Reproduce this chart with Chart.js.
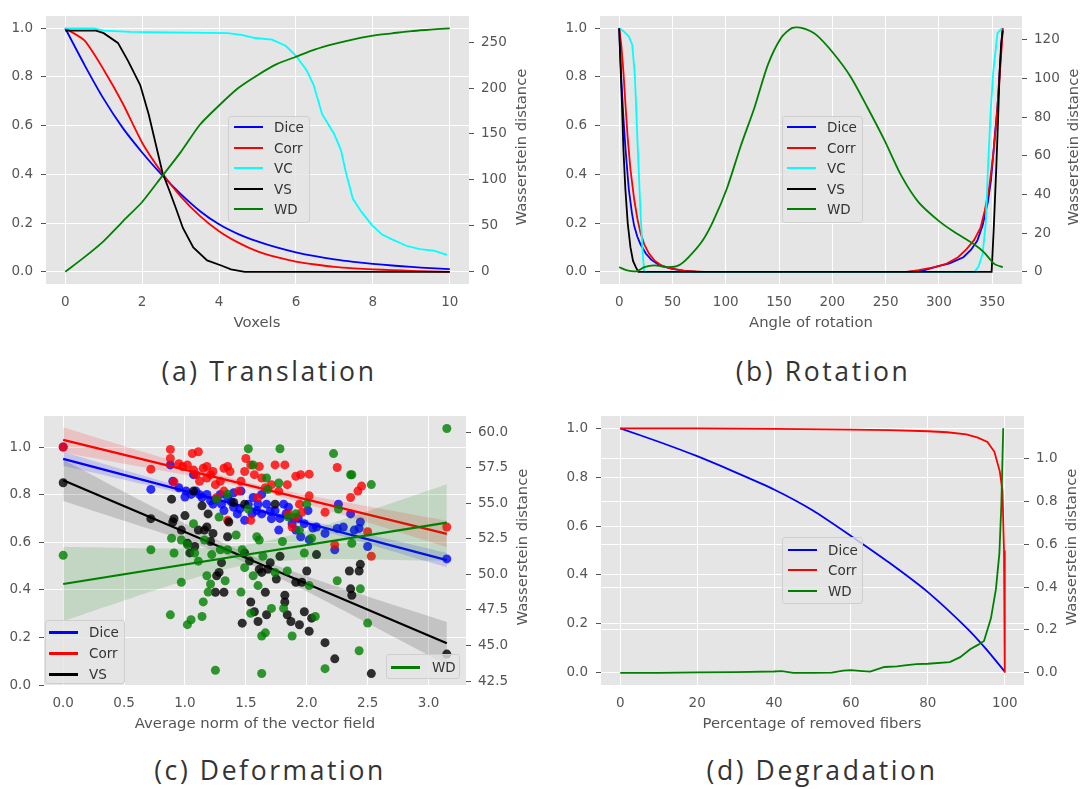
<!DOCTYPE html>
<html>
<head>
<meta charset="utf-8">
<script src="https://cdn.jsdelivr.net/npm/chart.js@4.4.1/dist/chart.umd.min.js"></script>
<style>
  body { margin: 0; background: #fff; width: 1080px; height: 789px; position: relative; overflow: hidden; font-family: 'DejaVu Sans', sans-serif; }
  canvas { position: absolute; }
  .t { position: absolute; transform: translate(-50%, -50%); white-space: nowrap; color: #555; font-size: 14.8px; }
  .r { transform: translate(-50%, -50%) rotate(-90deg); }
  .cap { position: absolute; transform: translateX(-50%); white-space: nowrap; font-family: 'Open Sans', sans-serif; font-size: 26.5px; line-height: 26px; letter-spacing: 2.6px; color: #333; }
  .lg { position: absolute; box-sizing: border-box; background: rgba(229,229,229,0.8); border: 1px solid #cfcfcf; border-radius: 3px; }
  .lg span { position: absolute; }
  .lg .tx { font-size: 13.5px; color: #333; transform: translateY(-50%); white-space: nowrap; }
</style>
</head>
<body>
<canvas id="ca" width="540" height="340" style="left:0;top:0"></canvas>
<canvas id="cb" width="540" height="340" style="left:540px;top:0"></canvas>
<canvas id="cc" width="540" height="340" style="left:0;top:400px"></canvas>
<canvas id="cd" width="540" height="340" style="left:540px;top:400px"></canvas>

<div class="t" style="left:257px;top:321px">Voxels</div>
<div class="t" style="left:811px;top:321px">Angle of rotation</div>
<div class="t" style="left:255px;top:722px">Average norm of the vector field</div>
<div class="t" style="left:812px;top:722px">Percentage of removed fibers</div>
<div class="t r" style="left:520px;top:147px">Wasserstein distance</div>
<div class="t r" style="left:1072px;top:147px">Wasserstein distance</div>
<div class="t r" style="left:521px;top:547px">Wasserstein distance</div>
<div class="t r" style="left:1070px;top:547px">Wasserstein distance</div>

<div class="cap" style="left:269px;top:358px">(a) Translation</div>
<div class="cap" style="left:823px;top:358px">(b) Rotation</div>
<div class="cap" style="left:270px;top:757px">(c) Deformation</div>
<div class="cap" style="left:822px;top:757px">(d) Degradation</div>

<script>
// ---- (a) Translation ----
const transX = [0, 0.5, 1, 1.5, 2, 2.5, 3, 3.5, 4, 4.5, 5, 5.5, 6, 6.5, 7, 7.5, 8, 8.5, 9, 9.5, 10];
const transDice = [1.0, 0.85, 0.71, 0.59, 0.49, 0.40, 0.32, 0.25, 0.195, 0.155, 0.125, 0.10, 0.08, 0.064, 0.051, 0.041, 0.033, 0.026, 0.02, 0.015, 0.011];
const transCorr = [1.0, 0.95, 0.83, 0.69, 0.53, 0.41, 0.31, 0.23, 0.167, 0.12, 0.084, 0.06, 0.042, 0.03, 0.02, 0.014, 0.01, 0.007, 0.004, 0.002, 0.0];
const transWD = [0, 16, 33.5, 55, 76, 103, 130, 160, 181, 200, 214, 226, 234, 242, 248, 253, 257, 259.5, 262, 263.5, 265];
const transVsX = [0, 0.8, 1.0, 1.37, 1.63, 1.95, 2.17, 2.35, 2.53, 2.71, 2.88, 3.06, 3.33, 3.69, 4.04, 4.31, 4.67, 10];
const transVs = [0.99, 0.99, 0.98, 0.94, 0.867, 0.767, 0.647, 0.527, 0.407, 0.333, 0.26, 0.18, 0.10, 0.047, 0.027, 0.01, 0, 0];
const transVcX = [0, 0.75, 1.0, 1.7, 4.22, 4.58, 4.94, 5.38, 5.74, 6.0, 6.28, 6.46, 6.68, 6.99, 7.17, 7.3, 7.48, 7.7, 7.97, 8.24, 8.5, 8.87, 9.22, 9.58, 9.93];
const transVc = [1.0, 1.0, 0.99, 0.985, 0.98, 0.973, 0.96, 0.953, 0.927, 0.887, 0.827, 0.767, 0.647, 0.567, 0.5, 0.407, 0.3, 0.247, 0.193, 0.153, 0.133, 0.107, 0.093, 0.087, 0.07];

// ---- (b) Rotation ----
const rotDiceX = [0, 2, 4, 6, 9, 12, 14, 17, 20, 25, 30, 36, 43, 50, 60, 72, 85, 270, 285, 297, 310, 323, 330, 336, 341, 346, 349, 352.4, 355, 357, 359.7];
const rotDice = [1, 0.79, 0.63, 0.5, 0.34, 0.24, 0.19, 0.145, 0.113, 0.075, 0.05, 0.032, 0.02, 0.012, 0.005, 0.001, 0, 0, 0.005, 0.02, 0.035, 0.06, 0.09, 0.127, 0.19, 0.287, 0.38, 0.553, 0.68, 0.82, 1.0];
const rotCorrX = [0, 2, 4, 6, 8, 10.6, 14, 17, 20, 23.5, 28, 33, 40, 49, 62, 80, 270, 281, 295, 307, 318, 326, 333, 339, 343, 347, 351, 354, 357, 359, 360];
const rotCorr = [1, 0.93, 0.82, 0.68, 0.55, 0.42, 0.3, 0.22, 0.16, 0.113, 0.075, 0.047, 0.025, 0.013, 0.004, 0, 0, 0.007, 0.018, 0.033, 0.06, 0.093, 0.13, 0.18, 0.25, 0.34, 0.48, 0.62, 0.8, 0.93, 1.0];
const rotVcX = [0, 2, 4.2, 6, 9, 12.2, 14.5, 15.5, 17, 18.5, 20.3, 22, 23.5, 333.5, 337, 341, 344, 346, 348.5, 351, 355, 359];
const rotVc = [1, 0.995, 0.987, 0.98, 0.967, 0.933, 0.82, 0.72, 0.553, 0.4, 0.22, 0.08, 0, 0, 0.02, 0.073, 0.2, 0.42, 0.65, 0.82, 0.98, 1.0];
const rotVsX = [0, 1.3, 2.6, 4, 5.8, 8, 10.6, 13, 15.5, 18, 349.5, 351.5, 353.8, 355.5, 357, 358.5, 360];
const rotVs = [1, 0.84, 0.69, 0.5, 0.34, 0.2, 0.1, 0.045, 0.02, 0, 0, 0.18, 0.42, 0.62, 0.82, 0.94, 0.99];
const rotWdX = [0, 7.4, 17, 23.5, 33, 46, 55.8, 65, 78, 88, 101, 114, 127, 139.5, 152, 162, 172, 185, 201, 217, 233, 249, 265, 281, 300.7, 313.5, 333, 342.6, 352, 360];
const rotWd = [2.5, 0.8, 0.5, 2.5, 3.4, 2.5, 3.4, 7.6, 16, 26, 43, 65, 85, 107, 121, 126, 126, 122.5, 113, 101, 85, 68, 49.5, 36, 26, 21, 14.3, 10, 4.2, 2.5];

// ---- (c) Deformation: scatter points ----
const diceDefX = [0, 0.72, 0.88, 0.90, 0.95, 1.01, 1.05, 1.07, 1.09, 1.14, 1.18, 1.21, 1.23, 1.29, 1.32, 1.35, 1.40, 1.40, 1.43, 1.46, 1.49, 1.52, 1.56, 1.59, 1.63, 1.63, 1.67, 1.71, 1.74, 1.77, 1.81, 1.85, 1.88, 1.91, 1.95, 1.98, 2.01, 2.02, 2.08, 2.15, 2.23, 2.25, 2.26, 2.30, 2.36, 2.39, 2.43, 2.44, 2.50, 3.15, 1.12, 1.25, 1.38, 1.45, 1.55, 1.6, 1.7, 1.78, 1.83, 1.93, 2.05, 1.3, 1.0];
const diceDefY = [1.0, 0.822, 0.925, 0.856, 0.829, 0.815, 0.801, 0.884, 0.815, 0.788, 0.801, 0.774, 0.76, 0.801, 0.733, 0.788, 0.747, 0.808, 0.719, 0.815, 0.692, 0.76, 0.788, 0.733, 0.719, 0.801, 0.76, 0.699, 0.733, 0.651, 0.76, 0.747, 0.678, 0.651, 0.623, 0.678, 0.733, 0.61, 0.664, 0.637, 0.568, 0.658, 0.76, 0.664, 0.719, 0.651, 0.658, 0.685, 0.582, 0.53, 0.80, 0.78, 0.77, 0.74, 0.72, 0.76, 0.73, 0.70, 0.72, 0.70, 0.66, 0.76, 0.79];
const corrDefX = [0, 0.72, 0.88, 0.88, 0.91, 0.95, 0.98, 1.02, 1.06, 1.11, 1.07, 1.09, 1.15, 1.18, 1.21, 1.23, 1.25, 1.29, 1.32, 1.35, 1.37, 1.32, 1.26, 1.46, 1.49, 1.50, 1.54, 1.57, 1.61, 1.63, 1.66, 1.54, 1.6, 1.71, 1.74, 1.82, 1.84, 1.77, 1.91, 1.95, 2.02, 2.02, 1.94, 1.88, 1.85, 2.15, 2.23, 2.25, 2.36, 2.42, 2.45, 2.50, 2.53, 3.15, 1.96, 1.91, 1.44, 1.18, 1.12, 1.35];
const corrDefY = [1.0, 0.907, 0.99, 0.952, 0.853, 0.93, 0.918, 0.925, 0.973, 0.98, 0.904, 0.884, 0.911, 0.918, 0.884, 0.897, 0.842, 0.856, 0.911, 0.918, 0.897, 0.815, 0.788, 0.856, 0.897, 0.952, 0.925, 0.884, 0.918, 0.87, 0.829, 0.692, 0.788, 0.842, 0.925, 0.925, 0.842, 0.815, 0.877, 0.884, 0.886, 0.795, 0.76, 0.664, 0.719, 0.726, 0.589, 0.914, 0.788, 0.815, 0.836, 0.644, 0.541, 0.664, 0.726, 0.705, 0.815, 0.87, 0.856, 0.692];
const vsDefX = [0, 0.72, 0.89, 0.90, 0.91, 0.97, 1.0, 1.02, 1.04, 1.07, 1.08, 1.11, 1.14, 1.16, 1.18, 1.19, 1.21, 1.25, 1.26, 1.28, 1.30, 1.32, 1.35, 1.36, 1.40, 1.47, 1.49, 1.53, 1.54, 1.57, 1.60, 1.61, 1.63, 1.66, 1.67, 1.70, 1.74, 1.75, 1.78, 1.82, 1.82, 1.84, 1.87, 1.91, 1.94, 1.96, 1.98, 2.0, 2.02, 2.04, 2.08, 2.15, 2.23, 2.35, 2.36, 2.37, 2.43, 2.44, 2.53, 3.15, 1.49, 1.23, 1.68];
const vsDefY = [0.85, 0.699, 0.781, 0.685, 0.699, 0.651, 0.712, 0.596, 0.555, 0.815, 0.582, 0.651, 0.753, 0.651, 0.664, 0.719, 0.603, 0.39, 0.459, 0.473, 0.514, 0.39, 0.623, 0.685, 0.767, 0.26, 0.76, 0.521, 0.349, 0.308, 0.267, 0.486, 0.473, 0.39, 0.295, 0.514, 0.76, 0.445, 0.541, 0.377, 0.349, 0.295, 0.267, 0.432, 0.253, 0.432, 0.308, 0.479, 0.226, 0.281, 0.548, 0.178, 0.11, 0.479, 0.404, 0.377, 0.479, 0.507, 0.048, 0.13, 0.555, 0.637, 0.486];
const wdDefX = [0, 0.72, 0.88, 0.89, 0.91, 0.97, 0.97, 1.02, 1.05, 1.07, 1.08, 1.11, 1.14, 1.16, 1.18, 1.19, 1.21, 1.22, 1.25, 1.26, 1.28, 1.29, 1.33, 1.35, 1.42, 1.46, 1.47, 1.49, 1.52, 1.52, 1.54, 1.56, 1.56, 1.59, 1.60, 1.61, 1.63, 1.63, 1.64, 1.66, 1.67, 1.68, 1.71, 1.74, 1.77, 1.78, 1.80, 1.81, 1.84, 1.85, 1.88, 1.91, 1.94, 1.98, 2.0, 2.02, 2.04, 2.07, 2.15, 2.22, 2.25, 2.26, 2.36, 2.37, 2.37, 2.43, 2.44, 2.50, 2.53, 3.15, 1.02, 1.15, 1.35];
const wdDefY = [51.35, 51.74, 47.16, 52.55, 51.51, 49.45, 52.43, 46.47, 46.81, 53.58, 51.51, 50.94, 47.04, 52.43, 49.91, 48.76, 49.33, 51.4, 43.26, 55.3, 54.04, 51.74, 49.56, 55.64, 52.78, 48.76, 51.74, 50.48, 54.61, 58.85, 47.27, 57.71, 49.91, 52.66, 49.22, 52.43, 45.67, 43.03, 51.28, 45.89, 56.79, 55.99, 47.61, 50.14, 56.44, 58.85, 52.32, 47.61, 50.25, 54.04, 45.67, 54.27, 53.12, 51.51, 54.95, 49.22, 52.55, 47.04, 43.37, 58.51, 49.56, 54.61, 57.02, 57.02, 52.2, 44.63, 48.99, 46.58, 56.33, 60.28, 52.09, 48.07, 51.74];

// ---- (c) Deformation: regression lines and confidence bands ----
const fitX = [0, 3.15];
const diceFit = [0.95, 0.525];
const corrFit = [1.03, 0.635];
const vsFit = [0.86, 0.175];
const wdFit = [49.33, 53.65];
const bandX = [0, 0.5, 1, 1.5, 2, 2.5, 3.15];
const diceHi = [0.979, 0.904, 0.829, 0.758, 0.693, 0.633, 0.555];
const diceLo = [0.921, 0.862, 0.801, 0.738, 0.667, 0.593, 0.495];
const corrHi = [1.083, 1.004, 0.927, 0.854, 0.798, 0.751, 0.69];
const corrLo = [0.977, 0.930, 0.883, 0.830, 0.760, 0.683, 0.58];
const vsHi = [0.947, 0.812, 0.679, 0.554, 0.457, 0.372, 0.265];
const vsLo = [0.773, 0.690, 0.607, 0.514, 0.393, 0.260, 0.085];
const wdHi = [51.95, 51.87, 51.84, 52.09, 53.08, 54.46, 56.35];
const wdLo = [46.71, 48.17, 49.56, 50.69, 51.06, 51.06, 50.95];

// ---- (d) Degradation ----
const degDiceX = [0, 10, 20, 30, 40, 50, 60, 70, 80, 90, 95, 100];
const degDice = [1, 0.945, 0.886, 0.82, 0.75, 0.665, 0.56, 0.45, 0.33, 0.185, 0.1, 0.005];
const degCorrX = [0, 20, 40, 60, 70, 80, 85, 90, 93, 95.5, 97.3, 98.7, 99.4, 99.8, 100];
const degCorr = [1, 1.0, 0.998, 0.995, 0.993, 0.988, 0.984, 0.975, 0.962, 0.944, 0.904, 0.824, 0.744, 0.5, 0.0];
const degWdX = [0, 10, 20, 30, 40, 42, 45, 50, 55, 58, 60, 63, 65, 68.7, 72, 74, 77, 80, 85.7, 88.4, 91, 93, 94.6, 96.4, 97.7, 98.6, 99.1, 99.6];
const degWd = [0, 0.0, 0.002, 0.003, 0.006, 0.008, 0.0, 0.0, 0.001, 0.01, 0.012, 0.008, 0.005, 0.027, 0.03, 0.035, 0.04, 0.042, 0.05, 0.073, 0.11, 0.13, 0.148, 0.254, 0.39, 0.557, 0.78, 1.14];

// ---- tick values ----
const unitTicks = [0, 0.2, 0.4, 0.6, 0.8, 1.0];
const transXTicks = [0, 2, 4, 6, 8, 10];
const transWdTicks = [0, 50, 100, 150, 200, 250];
const rotXTicks = [0, 50, 100, 150, 200, 250, 300, 350];
const rotWdTicks = [0, 20, 40, 60, 80, 100, 120];
const defXTicks = [0, 0.5, 1.0, 1.5, 2.0, 2.5, 3.0];
const defWdTicks = [42.5, 45.0, 47.5, 50.0, 52.5, 55.0, 57.5, 60.0];
const degXTicks = [0, 20, 40, 60, 80, 100];
const degWdTicks = [0, 0.2, 0.4, 0.6, 0.8, 1.0];

const BLUE = '#0000ff', RED = '#ff0000', CYAN = '#00ffff', BLACK = '#000000', GREEN = '#008000';

Chart.defaults.font.family = "'DejaVu Sans', sans-serif";
Chart.defaults.font.size = 13.5;
Chart.defaults.color = '#555';

// grey plot background like the ggplot style
const plotBg = {
  id: 'plotBg',
  beforeDraw(chart) {
    const a = chart.chartArea, ctx = chart.ctx;
    ctx.save();
    ctx.fillStyle = '#e5e5e5';
    ctx.fillRect(a.left, a.top, a.right - a.left, a.bottom - a.top);
    ctx.restore();
  }
};

const pts = (xs, ys) => xs.map((x, i) => ({ x: x, y: ys[i] }));
const fix1 = v => v.toFixed(1);
const plain = v => String(v);

const xAxis = (min, max, ticks, fmt, h) => ({
  type: 'linear', position: 'bottom', min: min, max: max,
  grid: { color: '#ffffff', lineWidth: 1, drawTicks: false },
  border: { display: false },
  ticks: { padding: 10, maxRotation: 0, autoSkip: false, callback: fmt },
  afterBuildTicks: s => { s.ticks = ticks.map(v => ({ value: v })); },
  afterFit: s => { s.height = h; }
});

const yAxis = (pos, min, max, ticks, fmt, w, grid) => ({
  type: 'linear', position: pos, min: min, max: max,
  grid: { color: '#ffffff', lineWidth: 1, drawOnChartArea: grid, tickColor: '#555', tickLength: 5, tickWidth: 1 },
  border: { display: false },
  ticks: { padding: pos === 'left' ? 8 : 7, autoSkip: false, callback: fmt },
  afterBuildTicks: s => { s.ticks = ticks.map(v => ({ value: v })); },
  afterFit: s => { s.width = w; }
});

const line = (xs, ys, color, axis, order, width, smooth) => ({
  type: 'line', data: pts(xs, ys), borderColor: color, borderWidth: width || 1.8,
  pointRadius: 0, fill: false, tension: smooth || 0, yAxisID: axis, order: order
});
const dots = (xs, ys, color, axis, order) => ({
  type: 'scatter', data: pts(xs, ys), backgroundColor: color, borderWidth: 0,
  pointRadius: 4.5, yAxisID: axis, order: order
});
const bandTop = (ys, color, axis, order) => ({
  type: 'line', data: pts(bandX, ys), borderWidth: 0, pointRadius: 0, tension: 0.3,
  fill: '+1', backgroundColor: color, yAxisID: axis, order: order
});
const bandBottom = (ys, axis, order) => ({
  type: 'line', data: pts(bandX, ys), borderWidth: 0, pointRadius: 0, tension: 0.3,
  fill: false, yAxisID: axis, order: order
});

const draw = (id, datasets, scales, top) => new Chart(document.getElementById(id), {
  type: 'line',
  data: { datasets: datasets },
  options: {
    responsive: false, animation: false, devicePixelRatio: 1, events: [],
    layout: { padding: { top: top, left: 0, right: 0, bottom: 0 } },
    plugins: { legend: { display: false }, tooltip: { enabled: false } },
    scales: scales
  },
  plugins: [plotBg]
});

draw('ca', [
  line(transX, transDice, BLUE, 'y', 5, 1.8, 0.2),
  line(transX, transCorr, RED, 'y', 4, 1.8, 0.2),
  line(transVcX, transVc, CYAN, 'y', 3),
  line(transVsX, transVs, BLACK, 'y', 2),
  line(transX, transWD, GREEN, 'y2', 1, 1.8, 0.2)
], {
  x: xAxis(-0.5, 10.5, transXTicks, plain, 56),
  y: yAxis('left', -0.05, 1.05, unitTicks, fix1, 46, true),
  y2: yAxis('right', -13.25, 278.25, transWdTicks, plain, 71, false)
}, 9);

draw('cb', [
  line(rotDiceX, rotDice, BLUE, 'y', 5),
  line(rotCorrX, rotCorr, RED, 'y', 4),
  line(rotVcX, rotVc, CYAN, 'y', 3),
  line(rotVsX, rotVs, BLACK, 'y', 2),
  line(rotWdX, rotWd, GREEN, 'y2', 1, 1.8, 0.25)
], {
  x: xAxis(-18, 378, rotXTicks, plain, 56),
  y: yAxis('left', -0.05, 1.05, unitTicks, fix1, 60, true),
  y2: yAxis('right', -6.2, 132.2, rotWdTicks, plain, 58, false)
}, 9);

draw('cc', [
  bandTop(diceHi, 'rgba(0,0,255,0.15)', 'y', 12), bandBottom(diceLo, 'y', 12),
  dots(diceDefX, diceDefY, 'rgba(0,0,255,0.8)', 'y', 11),
  line(fitX, diceFit, BLUE, 'y', 10, 2.2),
  bandTop(corrHi, 'rgba(255,0,0,0.15)', 'y', 9), bandBottom(corrLo, 'y', 9),
  dots(corrDefX, corrDefY, 'rgba(255,0,0,0.8)', 'y', 8),
  line(fitX, corrFit, RED, 'y', 7, 2.2),
  bandTop(vsHi, 'rgba(0,0,0,0.15)', 'y', 6), bandBottom(vsLo, 'y', 6),
  dots(vsDefX, vsDefY, 'rgba(0,0,0,0.8)', 'y', 5),
  line(fitX, vsFit, BLACK, 'y', 4, 2.2),
  bandTop(wdHi, 'rgba(0,128,0,0.15)', 'y2', 3), bandBottom(wdLo, 'y2', 3),
  dots(wdDefX, wdDefY, 'rgba(0,128,0,0.8)', 'y2', 2),
  line(fitX, wdFit, GREEN, 'y2', 1, 2.2)
], {
  x: xAxis(-0.1575, 3.3075, defXTicks, fix1, 55),
  y: yAxis('left', 0, 1.13, unitTicks, fix1, 44, true),
  y2: yAxis('right', 42.22, 61.15, defWdTicks, fix1, 74, false)
}, 10);

draw('cd', [
  line(degDiceX, degDice, BLUE, 'y', 3, 1.8, 0.2),
  line(degCorrX, degCorr, RED, 'y', 2),
  line(degWdX, degWd, GREEN, 'y2', 1)
], {
  x: xAxis(-5, 105, degXTicks, plain, 55),
  y: yAxis('left', -0.05, 1.05, unitTicks, fix1, 61, true),
  y2: yAxis('right', -0.057, 1.197, degWdTicks, fix1, 56, true)
}, 10);

// legends drawn inside the plots, as in the figure
const legend = (box, names, colors, rows, lineX, textX, lw) => {
  const el = document.createElement('div');
  el.className = 'lg';
  el.style.cssText = `left:${box[0]}px;top:${box[1]}px;width:${box[2]}px;height:${box[3]}px`;
  names.forEach((n, i) => {
    const s = document.createElement('span');
    s.style.cssText = `left:${lineX}px;top:${rows[i] - lw / 2}px;width:29px;height:${lw}px;background:${colors[i]}`;
    const t = document.createElement('span');
    t.className = 'tx';
    t.style.cssText = `left:${textX}px;top:${rows[i]}px`;
    t.textContent = n;
    el.appendChild(s); el.appendChild(t);
  });
  document.body.appendChild(el);
};
legend([228, 116, 82, 107], ['Dice', 'Corr', 'VC', 'VS', 'WD'], [BLUE, RED, CYAN, BLACK, GREEN], [10, 31, 51, 72, 92], 5, 45, 2);
legend([782, 116, 81, 107], ['Dice', 'Corr', 'VC', 'VS', 'WD'], [BLUE, RED, CYAN, BLACK, GREEN], [10, 31, 51, 72, 92], 4, 44, 2);
legend([45, 620, 80, 64], ['Dice', 'Corr', 'VS'], [BLUE, RED, BLACK], [11, 32, 53], 3, 43, 3);
legend([386, 654, 74, 25], ['WD'], [GREEN], [12], 4, 45, 3);
legend([782, 537, 81, 67], ['Dice', 'Corr', 'WD'], [BLUE, RED, GREEN], [12, 32, 53], 5, 45, 2);
</script>
</body>
</html>
